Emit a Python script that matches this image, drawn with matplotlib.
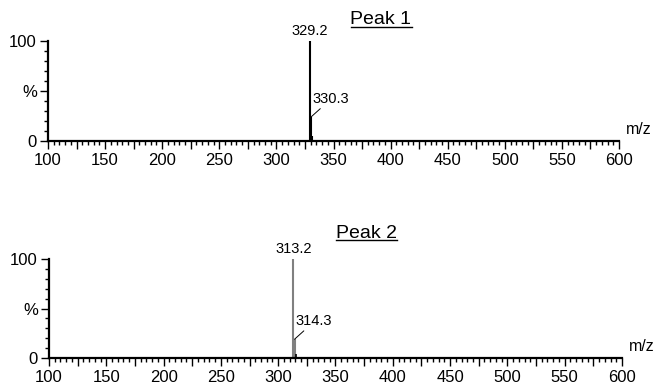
import matplotlib
matplotlib.use("Agg")
import matplotlib.pyplot as plt
from matplotlib.ticker import MultipleLocator, FixedLocator, FixedFormatter
from matplotlib.lines import Line2D

plt.rcParams['font.family'] = ['Liberation Sans', 'DejaVu Sans']

# spectrum 1
mz1 = [329.2, 330.3, 331.3]
int1 = [100, 24, 5]
lab1 = ["329.2", "330.3"]
# spectrum 2
mz2 = [313.2, 314.3]
int2 = [100, 19]
mz2_small = [315.3]
int2_small = [4]
lab2 = ["313.2", "314.3"]

titles = ["Peak 1", "Peak 2"]

fig = plt.figure(figsize=(6.53, 3.87), dpi=100)
ax1 = fig.add_axes([0.0735, 0.6357, 0.8745, 0.2584])
ax2 = fig.add_axes([0.075, 0.0749, 0.8775, 0.2558])


def style(ax):
	ax.set_xlim(100, 600)
	ax.set_ylim(0, 100)
	for s in ['top', 'right']:
		ax.spines[s].set_visible(False)
	for s in ['left', 'bottom']:
		ax.spines[s].set_linewidth(1.6)
	ax.xaxis.set_major_locator(MultipleLocator(25))
	ax.xaxis.set_minor_locator(MultipleLocator(5))
	ax.set_xticklabels([])
	ax.yaxis.set_major_locator(FixedLocator([0, 50, 100]))
	ax.yaxis.set_major_formatter(FixedFormatter(["0", "%", "100"]))
	ax.yaxis.set_minor_locator(MultipleLocator(10))
	ax.tick_params(which='major', length=6, width=1.0, labelsize=12, pad=2)
	ax.tick_params(which='minor', length=3, width=1.0)
	# labels every 50 only
	for x in range(100, 601, 50):
		ax.text(x, -0.12, str(x), transform=ax.get_xaxis_transform(),
			ha='center', va='top', fontsize=12)
	ax.text(1.012, 0.04, "m/z", transform=ax.transAxes, ha='left', va='bottom', fontsize=11.5)


style(ax1)
style(ax2)

# peaks
ax1.vlines(mz1, 0, int1, color='black', linewidth=1.5, clip_on=False)
ax2.vlines(mz2, 0, int2, color='#808080', linewidth=1.5, clip_on=False)
ax2.vlines(mz2_small, 0, int2_small, color='black', linewidth=1.2, clip_on=False)


def label_peaks(ax, mz, inten, labels):
	ax.annotate(labels[0], (mz[0], inten[0]), xytext=(0, 2), textcoords='offset points',
		ha='center', va='bottom', fontsize=10.5, annotation_clip=False)
	ax.annotate(labels[1], (mz[1], inten[1]), xytext=(1, 8), textcoords='offset points',
		ha='left', va='bottom', fontsize=10.5, annotation_clip=False,
		arrowprops=dict(arrowstyle='-', color='black', lw=0.7,
			shrinkA=0, shrinkB=0, relpos=(0.3, 0)))


label_peaks(ax1, mz1, int1, lab1)
label_peaks(ax2, mz2, int2, lab2)

# underlined titles
fig.canvas.draw()
renderer = fig.canvas.get_renderer()
for (x, y), title in zip([(381 / 653, 1 - 20 / 387), (366 / 653, 1 - 233 / 387)], titles):
	t = fig.text(x, y, title, ha='center', va='center', fontsize=14)
	bb = t.get_window_extent(renderer).transformed(fig.transFigure.inverted())
	fig.add_artist(Line2D([bb.x0, bb.x1], [bb.y0 + 0.004, bb.y0 + 0.004],
		transform=fig.transFigure, color='black', linewidth=1.0))

fig.savefig("out.png", dpi=100)
